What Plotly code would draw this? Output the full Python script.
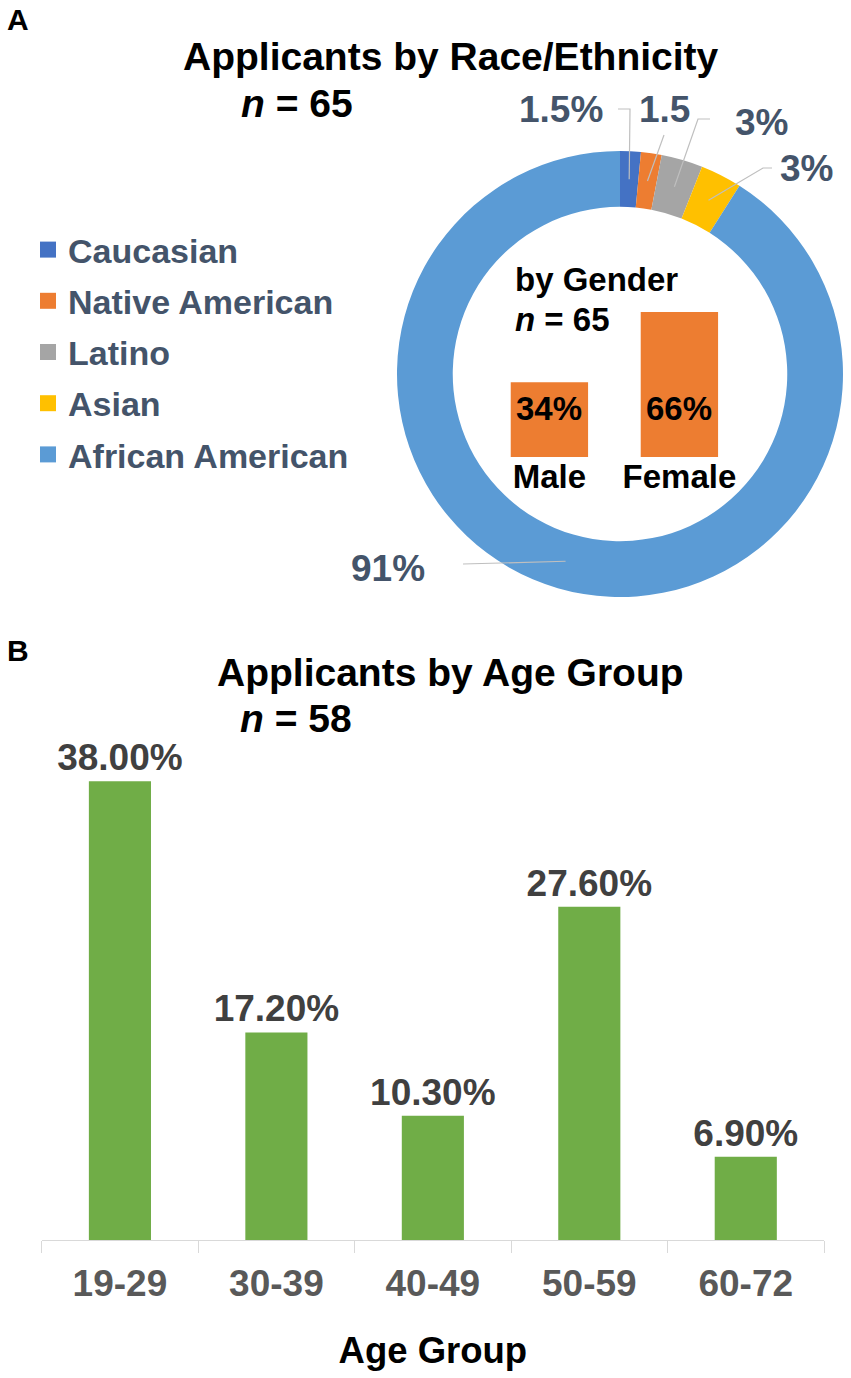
import math
import plotly.graph_objects as go

# ---------------- data ----------------
race_labels = ["Caucasian", "Native American", "Latino", "Asian", "African American"]
race_values = [1.5, 1.5, 3, 3, 91]
race_text = ["1.5%", "1.5", "3%", "3%", "91%"]
race_colors = ["#4472C4", "#ED7D31", "#A5A5A5", "#FFC000", "#5B9BD5"]

gender_labels = ["Male", "Female"]
gender_values = [34, 66]
gender_text = ["34%", "66%"]

age_groups = ["19-29", "30-39", "40-49", "50-59", "60-72"]
age_values = [38.0, 17.2, 10.3, 27.6, 6.9]
age_text = ["38.00%", "17.20%", "10.30%", "27.60%", "6.90%"]

# ---------------- geometry ----------------
W, H = 851, 1378
FONT = "Liberation Sans, Arial, sans-serif"

def px(x):
    return x / W

def py(y):
    return (H - y) / H

cx, cy, r_out, hole = 620, 374, 223, 0.75

fig = go.Figure()

fig.add_trace(go.Pie(
    labels=race_labels, values=race_values, sort=False, direction="clockwise",
    rotation=0, hole=hole, textinfo="none", hoverinfo="label+percent",
    marker=dict(colors=race_colors, line=dict(width=0)),
    domain=dict(x=[px(cx - r_out), px(cx + r_out)], y=[py(cy + r_out), py(cy - r_out)]),
    showlegend=False,
))

# legend entries for the race categories (one group each, so spacing can be set)
for i, (lab, col) in enumerate(zip(race_labels, race_colors)):
    fig.add_trace(go.Scatter(
        x=[None], y=[None], mode="markers", name=lab, legendgroup="g%d" % i,
        marker=dict(symbol="square", size=16, color=col),
        xaxis="x2", yaxis="y2", showlegend=True, hoverinfo="skip",
    ))

# gender mini bars
fig.add_trace(go.Bar(
    x=gender_labels, y=gender_values, width=0.595,
    marker=dict(color="#ED7D31", line=dict(width=0)),
    xaxis="x2", yaxis="y2", showlegend=False, hoverinfo="x+y",
))

# age bars
fig.add_trace(go.Bar(
    x=age_groups, y=age_values, text=age_text, textposition="outside",
    cliponaxis=False, constraintext="none",
    textfont=dict(family=FONT, size=37, color="#404040", weight="bold"),
    marker=dict(color="#70AD47", line=dict(width=0)),
    showlegend=False, hoverinfo="x+y",
))

annotations = []
shapes = []

def txt(x, y, s, size, color="black", xanchor="center", xref="paper", yref="paper"):
    annotations.append(dict(
        x=x, y=y, xref=xref, yref=yref, text=s, showarrow=False,
        xanchor=xanchor, yanchor="middle",
        font=dict(family=FONT, size=size, color=color, weight="bold"),
    ))

# panel letters & titles
txt(px(18), py(20), "A", 30)
txt(px(18), py(650), "B", 30)
txt(px(451), py(56), "Applicants by Race/Ethnicity", 39)
txt(px(297), py(104), "<i>n</i> = 65", 39)
txt(px(450), py(672), "Applicants by Age Group", 39)
txt(px(296), py(718), "<i>n</i> = 58", 39)

# gender inner titles
txt(px(513), py(280), "by Gender", 33, xanchor="left")
txt(px(513), py(319), "<i>n</i> = 65", 33, xanchor="left")
for g, t in zip(gender_labels, gender_text):
    annotations.append(dict(
        x=g, y=22.3, xref="x2", yref="y2", text=t, showarrow=False,
        xanchor="center", yanchor="middle",
        font=dict(family=FONT, size=33, color="black", weight="bold"),
    ))

# pie labels with leader lines (head points computed from data)
total = sum(race_values)
label_pos = [(561, 110), (664, 110), (761, 122), (806, 169), (388, 568)]
leader_pts = [
    [(630, 109), (618, 109)],
    [(664, 135)],
    [(698, 119), (710, 119)],
    [(763, 168), (772, 168)],
    [(463, 564)],
]
r_mid = 195
cum = 0
for v, s, lp, pts in zip(race_values, race_text, label_pos, leader_pts):
    ang = 2 * math.pi * (cum + v / 2) / total
    cum += v
    hx = cx + r_mid * math.sin(ang)
    hy = cy - r_mid * math.cos(ang)
    path = "M %f,%f" % (px(hx), py(hy))
    for (qx, qy) in pts:
        path += " L %f,%f" % (px(qx), py(qy))
    shapes.append(dict(type="path", xref="paper", yref="paper", path=path,
                       line=dict(color="#BFBFBF", width=1.2), layer="above"))
    txt(px(lp[0]), py(lp[1]), s, 37, color="#44546A")

# age axis geometry
ax_left, ax_right = 41.7, 824
base_y, top_y = 1240, 740
ppu = 12.07  # px per percent
# gender axis geometry
g_left, g_right = 484.4, 744.4
g_base, g_top = 457, 300
g_ppu = 2.197

fig.update_layout(
    width=W, height=H, margin=dict(l=0, r=0, t=0, b=0),
    paper_bgcolor="white", plot_bgcolor="white",
    font=dict(family=FONT, color="black"),
    showlegend=True,
    legend=dict(
        x=px(28), y=py(221), xanchor="left", yanchor="top",
        font=dict(family=FONT, size=34, color="#44546A", weight="bold"),
        bgcolor="rgba(0,0,0,0)", traceorder="grouped", tracegroupgap=4,
        itemclick=False, itemdoubleclick=False,
    ),
    bargap=0.603,
    xaxis=dict(
        domain=[px(ax_left), px(ax_right)], type="category",
        showline=True, linecolor="#D9D9D9", linewidth=1.3,
        ticks="outside", tickson="boundaries", ticklen=12, tickcolor="#D9D9D9", tickwidth=1.3,
        tickfont=dict(family=FONT, size=37, color="#595959", weight="bold"),
        ticklabelstandoff=10,
        showgrid=False, zeroline=False, fixedrange=True,
        title=dict(text="Age Group", font=dict(family=FONT, size=36.5, color="black", weight="bold"),
                   standoff=34),
        anchor="y",
    ),
    yaxis=dict(
        domain=[py(base_y), py(top_y)], range=[0, (base_y - top_y) / ppu],
        visible=False, showgrid=False, zeroline=False, fixedrange=True,
    ),
    xaxis2=dict(
        domain=[px(g_left), px(g_right)], type="category", anchor="y2",
        categoryorder="array", categoryarray=gender_labels,
        showline=False, ticks="", showgrid=False, zeroline=False,
        tickfont=dict(family=FONT, size=33, color="black", weight="bold"),
        ticklabelstandoff=-3,
        fixedrange=True,
    ),
    yaxis2=dict(
        domain=[py(g_base), py(g_top)], range=[0, (g_base - g_top) / g_ppu], anchor="x2",
        visible=False, showgrid=False, zeroline=False, fixedrange=True,
    ),
    annotations=annotations,
    shapes=shapes,
)

fig.write_html("out.html", config={"displayModeBar": False},
               post_script="document.body.style.margin='0';")
